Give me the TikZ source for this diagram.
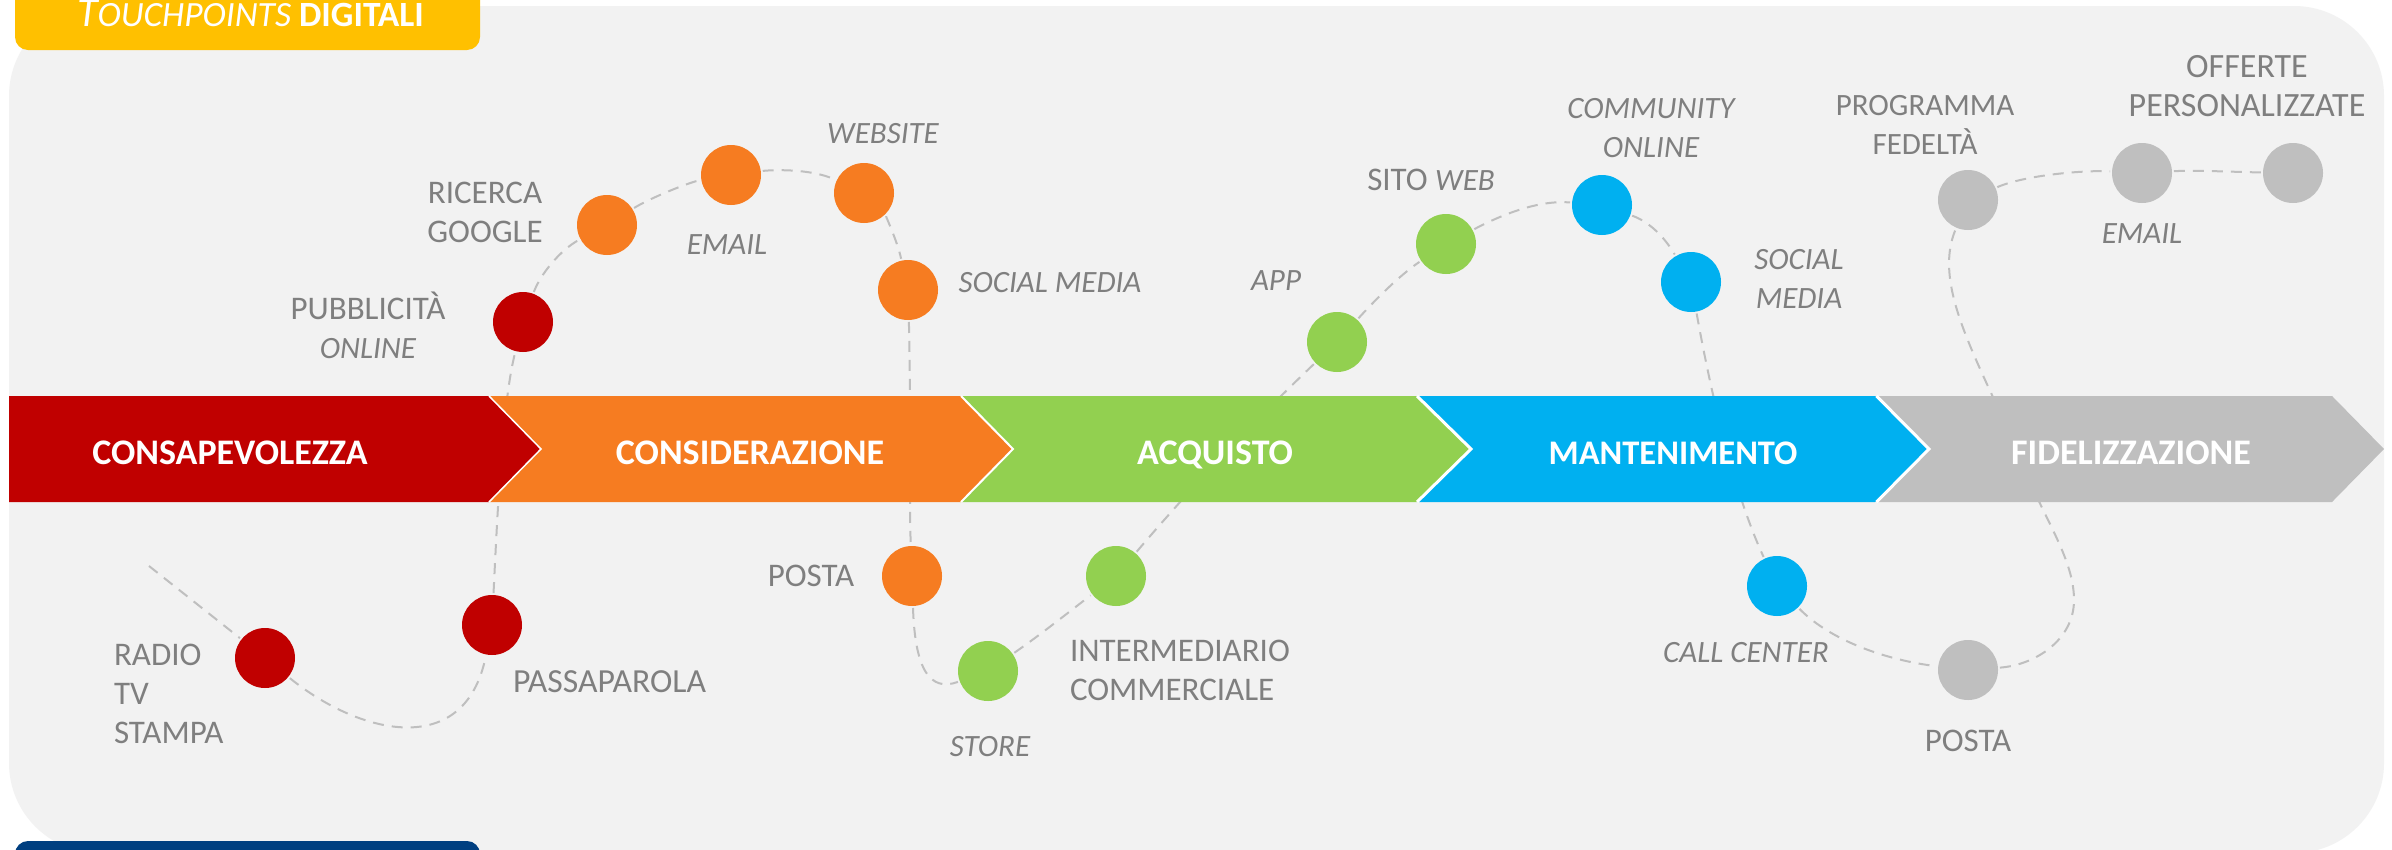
\documentclass[tikz,border=0pt]{standalone}
\usepackage{fontspec}
\setmainfont{Carlito}
\definecolor{cred}{HTML}{C00000}
\definecolor{corange}{HTML}{F67C21}
\definecolor{cgreen}{HTML}{92D050}
\definecolor{cblue}{HTML}{00B0F0}
\definecolor{cgrey}{HTML}{BFBFBF}
\definecolor{cpanel}{HTML}{F2F2F2}
\definecolor{ctext}{HTML}{7F7F7F}
\definecolor{cyell}{HTML}{FFC000}
\definecolor{cnavy}{HTML}{003F80}
\newcommand{\itl}{\fontsize{31}{38.6}\selectfont\itshape}
\tikzset{
  x=1pt,y=-1pt,
  dot/.style={circle,fill=#1,minimum size=60pt,inner sep=0pt,outer sep=2pt},
  lbl/.style={text=ctext,inner sep=0pt,outer sep=0pt,anchor=base,align=center,font=\fontsize{33}{38.6}\selectfont},
  lbll/.style={lbl,align=left,anchor=base west},
  stage/.style={text=white,inner sep=0pt,anchor=base,font=\fontsize{36}{38}\selectfont\bfseries},
  conn/.style={draw=cgrey,line width=2pt,dash pattern=on 11pt off 8pt},
  sep/.style={draw=white,line width=2pt}
}
\begin{document}
\begin{tikzpicture}
\clip (0,0) rectangle (2392,849);
\fill[white] (0,0) rectangle (2392,849);
% panel
\fill[cpanel,rounded corners=90pt] (9,6) rectangle (2384,853);
% tabs
\fill[cyell,rounded corners=13pt] (15,-30) rectangle (480,50);
\fill[cnavy,rounded corners=13pt] (15,841) rectangle (480,900);
\node[text=white,inner sep=0pt,anchor=base west,font=\fontsize{35.5}{38}\selectfont] (tabtxt) at (77,26)
  {\itshape{\fontsize{42}{38}\selectfont T}OUCHPOINTS \upshape\bfseries DIGITALI};
% free points
\coordinate (startc) at (149,566);
\coordinate (bendA) at (2074,600);
\coordinate (bendB) at (2025,470);
% touchpoints
\path
 (523,322) node[dot=cred] (pub) {}
 (607,225) node[dot=corange] (ric) {}
 (731,175) node[dot=corange] (ema) {}
 (864,193) node[dot=corange] (web) {}
 (908,290) node[dot=corange] (soc) {}
 (265,658) node[dot=cred] (rad) {}
 (492,625) node[dot=cred] (pas) {}
 (912,576) node[dot=corange] (pos) {}
 (988,671) node[dot=cgreen] (sto) {}
 (1116,576) node[dot=cgreen] (int) {}
 (1337,342) node[dot=cgreen] (app) {}
 (1446,244) node[dot=cgreen] (sit) {}
 (1602,205) node[dot=cblue] (com) {}
 (1691,282) node[dot=cblue] (sob) {}
 (1777,586) node[dot=cblue] (cal) {}
 (1968,670) node[dot=cgrey] (pog) {}
 (1968,200) node[dot=cgrey] (pro) {}
 (2142,173) node[dot=cgrey] (emg) {}
 (2293,173) node[dot=cgrey] (off) {};
% connectors
\draw[conn] (startc) -- (rad);
\draw[conn] (rad) .. controls (360,735) and (465,760) .. (pas);
\draw[conn] (pas) .. controls (498,500) and (503,400) .. (pub);
\draw[conn] (pub) .. controls (540,275) and (560,250) .. (ric);
\draw[conn] (ric) .. controls (650,198) and (690,182) .. (ema);
\draw[conn] (ema) .. controls (770,170) and (810,168) .. (web);
\draw[conn] (web) .. controls (885,215) and (897,240) .. (soc);
\draw[conn] (soc) .. controls (911,400) and (909,500) .. (pos);
\draw[conn] (pos) .. controls (915,670) and (930,692) .. (sto);
\draw[conn] (sto) .. controls (1040,635) and (1065,615) .. (int);
\draw[conn] (int) .. controls (1190,489) and (1250,425) .. (app);
\draw[conn] (app) .. controls (1375,300) and (1400,275) .. (sit);
\draw[conn] (sit) .. controls (1505,213) and (1540,200) .. (com);
\draw[conn] (com) .. controls (1650,222) and (1665,238) .. (sob);
\draw[conn] (sob) .. controls (1705,360) and (1728,480) .. (cal);
\draw[conn] (cal) .. controls (1830,640) and (1885,660) .. (pog);
\draw[conn] (pog) .. controls (2035,665) and (2074,640) .. (bendA)
  .. controls (2074,560) and (2045,520) .. (bendB)
  .. controls (1985,370) and (1930,290) .. (pro);
\draw[conn] (pro) .. controls (2025,175) and (2085,170) .. (emg);
\draw[conn] (emg) .. controls (2195,170) and (2235,172) .. (off);
% banner
\fill[cgrey] (1878,396) -- (2332,396) -- (2384,449) -- (2332,502) -- (1878,502) -- (1930,449) -- cycle;
\fill[cblue] (1417,396) -- (1875,396) -- (1928,449) -- (1875,502) -- (1417,502) -- (1471,449) -- cycle;
\fill[cgreen] (961,396) -- (1417,396) -- (1471,449) -- (1417,502) -- (961,502) -- (1013,449) -- cycle;
\fill[corange] (489,396) -- (961,396) -- (1013,449) -- (961,502) -- (489,502) -- (541,449) -- cycle;
\fill[cred] (9,396) -- (489,396) -- (541,449) -- (489,502) -- (9,502) -- cycle;
\draw[sep,line width=1.5pt] (489,396) -- (541,449) -- (489,502);
\draw[sep] (961,396) -- (1013,449) -- (961,502);
\draw[sep,line width=3pt] (1417,396) -- (1471,449) -- (1417,502);
\draw[sep,line width=3pt] (1876.5,396) -- (1929,449) -- (1876.5,502);
\node[stage] (s1) at (230,464) {CONSAPEVOLEZZA};
\node[stage] (s2) at (750,464) {CONSIDERAZIONE};
\node[stage] (s3) at (1215,464) {ACQUISTO};
\node[stage,font=\fontsize{34.5}{38}\selectfont\bfseries] (s4) at (1673,464) {MANTENIMENTO};
\node[stage] (s5) at (2131,464) {FIDELIZZAZIONE};
% labels
\node[lbl] (l1) at (368,358) {PUBBLICITÀ\\\itl ONLINE};
\node[lbl] (l2) at (485,242) {RICERCA\\GOOGLE};
\node[lbl] (l3) at (727,254) {\itl EMAIL};
\node[lbl] (l4) at (883,143) {\itl WEBSITE};
\node[lbl] (l5) at (1050,292) {\itl SOCIAL MEDIA};
\node[lbl] (l6) at (1276,290) {\itl APP};
\node[lbl] (l7) at (1431,190) {SITO \itl WEB};
\node[lbl] (l8) at (1651,157) {\itl COMMUNITY\\\itl ONLINE};
\node[lbl] (l9) at (1799,308) {\itl SOCIAL\\\itl MEDIA};
\node[lbl,font=\fontsize{31}{38.6}\selectfont] (l10) at (1925,154) {PROGRAMMA\\FEDELTÀ};
\node[lbl,font=\fontsize{34}{38.6}\selectfont] (l11) at (2247,116) {OFFERTE\\PERSONALIZZATE};
\node[lbl] (l12) at (2142,243) {\itl EMAIL};
\node[lbll] (l13) at (114,743) {RADIO\\TV\\STAMPA};
\node[lbll,font=\fontsize{33.7}{38.6}\selectfont] (l14) at (513,692) {PASSAPAROLA};
\node[lbl] (l15) at (811,586) {POSTA};
\node[lbll] (l16) at (1070,700) {INTERMEDIARIO\\COMMERCIALE};
\node[lbl] (l17) at (990,756) {\itl STORE};
\node[lbl] (l18) at (1746,662) {\itl CALL CENTER};
\node[lbl] (l19) at (1968,751) {POSTA};
\end{tikzpicture}
\end{document}
